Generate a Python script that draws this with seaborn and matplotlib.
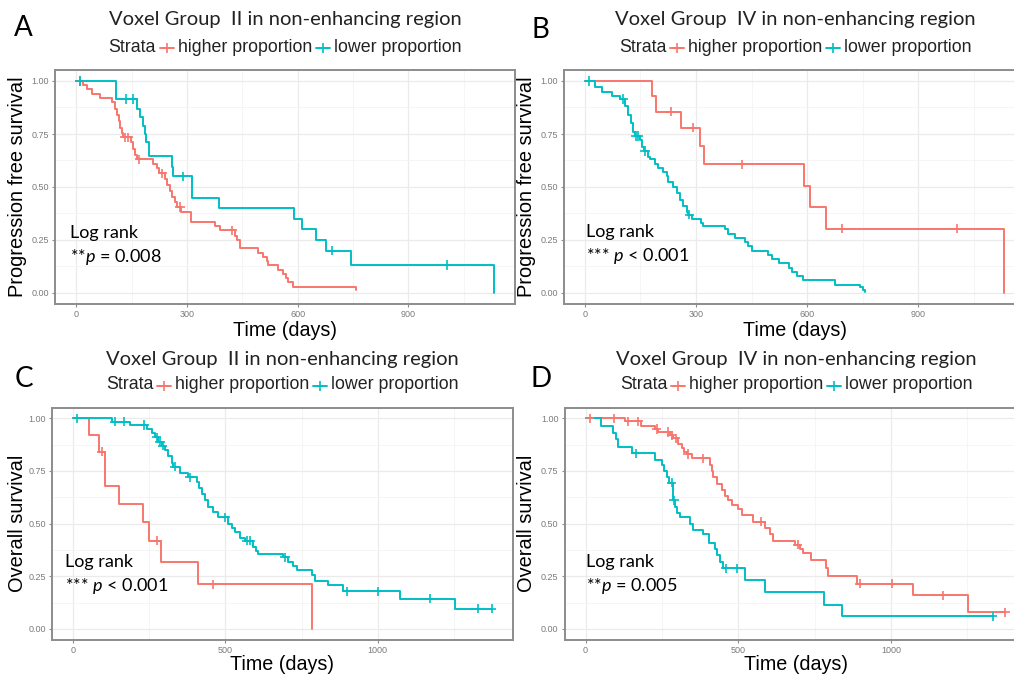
import numpy as np
import pandas as pd
import matplotlib
matplotlib.use("Agg")
import matplotlib.pyplot as plt
import seaborn as sns
from matplotlib.lines import Line2D
from matplotlib.ticker import MultipleLocator, FixedLocator

# ----------------------------
# Kaplan-Meier step data
# ----------------------------

# A: progression free survival, Voxel Group II
a_hi_t = [0, 19, 30, 42, 64, 96, 105, 110, 115, 120, 124, 128, 148, 154, 159, 165, 209, 218, 225,
          240, 245, 254, 261, 267, 272, 285, 311, 376, 389, 430, 436, 444, 493, 507, 516, 520,
          547, 561, 568, 575, 588, 758]
a_hi_s = [1.0, 0.98, 0.96, 0.94, 0.92, 0.90, 0.87, 0.84, 0.81, 0.78, 0.755, 0.735, 0.71, 0.68, 0.65,
          0.63, 0.61, 0.59, 0.565, 0.54, 0.51, 0.48, 0.455, 0.43, 0.405, 0.38, 0.335, 0.315, 0.295,
          0.27, 0.25, 0.21, 0.19, 0.17, 0.15, 0.13, 0.11, 0.09, 0.07, 0.05, 0.03, 0.012]
a_hi_c = [10, 132, 141, 171, 233, 281, 423]
a_lo_t = [0, 107, 164, 172, 180, 186, 190, 197, 260, 263, 315, 387, 591, 611, 651, 678, 746, 1132]
a_lo_s = [1.0, 0.915, 0.87, 0.83, 0.79, 0.75, 0.71, 0.645, 0.595, 0.55, 0.448, 0.40, 0.35, 0.30,
          0.25, 0.20, 0.132, 0.0]
a_lo_c = [10, 135, 154, 289, 694, 1006]

# B: progression free survival, Voxel Group IV
b_hi_t = [0, 180, 192, 259, 311, 322, 593, 607, 650, 1131]
b_hi_s = [1.0, 0.929, 0.855, 0.78, 0.693, 0.607, 0.506, 0.405, 0.303, 0.0]
b_hi_c = [232, 291, 423, 695, 1005]
b_lo_t = [0, 27, 45, 72, 95, 108, 117, 124, 131, 135, 149, 155, 160, 169, 176, 189, 198, 212, 221,
          225, 239, 248, 257, 266, 275, 279, 288, 313, 318, 378, 387, 405, 431, 441, 450, 495, 505,
          523, 550, 560, 572, 588, 676, 743, 752, 757]
b_lo_s = [1.0, 0.97, 0.95, 0.93, 0.915, 0.88, 0.84, 0.80, 0.76, 0.74, 0.72, 0.69, 0.67, 0.64, 0.63,
          0.61, 0.59, 0.57, 0.55, 0.525, 0.50, 0.47, 0.44, 0.41, 0.38, 0.37, 0.35, 0.33, 0.315, 0.30,
          0.28, 0.26, 0.24, 0.22, 0.20, 0.18, 0.16, 0.14, 0.12, 0.10, 0.08, 0.06, 0.04, 0.03, 0.015,
          0.004]
b_lo_c = [12, 104, 138, 144, 162, 282]

# C: overall survival, Voxel Group II
c_hi_t = [0, 52, 86, 105, 152, 229, 249, 290, 409, 783]
c_hi_s = [1.0, 0.921, 0.842, 0.68, 0.593, 0.51, 0.42, 0.32, 0.212, 0.0]
c_hi_c = [94, 277, 461]
c_lo_t = [0, 127, 187, 242, 258, 269, 280, 291, 302, 313, 324, 329, 351, 379, 406, 414, 422, 433,
          444, 458, 477, 510, 521, 532, 548, 565, 592, 601, 608, 688, 707, 723, 734, 783, 794, 838,
          887, 1073, 1254, 1374]
c_lo_s = [1.0, 0.984, 0.968, 0.95, 0.93, 0.91, 0.89, 0.87, 0.85, 0.82, 0.79, 0.77, 0.74, 0.72, 0.70,
          0.67, 0.64, 0.61, 0.58, 0.555, 0.53, 0.50, 0.48, 0.46, 0.43, 0.42, 0.39, 0.37, 0.355,
          0.34, 0.32, 0.30, 0.28, 0.255, 0.23, 0.21, 0.178, 0.144, 0.097, 0.097]
c_lo_c = [14, 138, 167, 233, 275, 286, 294, 335, 384, 499, 570, 581, 696, 898, 1002, 1172, 1330,
          1374]

# D: overall survival, Voxel Group IV
d_hi_t = [0, 129, 183, 227, 238, 276, 287, 303, 314, 323, 331, 347, 407, 413, 418, 429, 445, 456,
          467, 478, 500, 511, 549, 587, 603, 615, 686, 702, 711, 738, 786, 795, 888, 1073, 1253, 1373]
d_hi_s = [1.0, 0.985, 0.965, 0.95, 0.935, 0.92, 0.905, 0.88, 0.86, 0.84, 0.83, 0.81, 0.78, 0.75,
          0.72, 0.69, 0.66, 0.63, 0.61, 0.59, 0.57, 0.54, 0.51, 0.48, 0.45, 0.42, 0.40, 0.38, 0.36,
          0.327, 0.288, 0.252, 0.215, 0.16, 0.079, 0.079]
d_hi_c = [13, 94, 140, 172, 233, 271, 282, 295, 334, 383, 574, 694, 898, 1002, 1171, 1373]
d_lo_t = [0, 52, 91, 98, 107, 151, 227, 249, 258, 265, 273, 285, 287, 293, 298, 309, 342, 353, 385,
          404, 424, 429, 440, 451, 522, 587, 782, 838, 1332]
d_lo_s = [1.0, 0.965, 0.93, 0.90, 0.865, 0.834, 0.80, 0.78, 0.75, 0.72, 0.695, 0.65, 0.61, 0.58,
          0.55, 0.53, 0.50, 0.47, 0.45, 0.41, 0.38, 0.35, 0.32, 0.288, 0.233, 0.174, 0.114, 0.06,
          0.06]
d_lo_c = [164, 282, 289, 460, 497, 1332]

strata = ["higher proportion", "lower proportion"]
colors = {"higher proportion": "#F8766D", "lower proportion": "#00BFC4"}

titles = ["Voxel Group  II in non-enhancing region", "Voxel Group  IV in non-enhancing region",
          "Voxel Group  II in non-enhancing region", "Voxel Group  IV in non-enhancing region"]
ylabels = ["Progression free survival", "Progression free survival",
           "Overall survival", "Overall survival"]
letters = ["A", "B", "C", "D"]
pstars = ["**", "*** ", "*** ", "**"]
ptexts = [" = 0.008", " < 0.001", " < 0.001", " = 0.005"]
xticks_list = [[0, 300, 600, 900], [0, 300, 600, 900], [0, 500, 1000], [0, 500, 1000]]

panels = [
    (a_hi_t, a_hi_s, a_hi_c, a_lo_t, a_lo_s, a_lo_c),
    (b_hi_t, b_hi_s, b_hi_c, b_lo_t, b_lo_s, b_lo_c),
    (c_hi_t, c_hi_s, c_hi_c, c_lo_t, c_lo_s, c_lo_c),
    (d_hi_t, d_hi_s, d_hi_c, d_lo_t, d_lo_s, d_lo_c),
]

# ----------------------------
# Style and layout (pixel positions of the original 1014x679 image)
# ----------------------------
sns.set_style("white")
plt.rcParams["font.family"] = ["Liberation Sans", "DejaVu Sans"]
plt.rcParams["mathtext.fontset"] = "custom"
plt.rcParams["mathtext.rm"] = "Lato"
plt.rcParams["mathtext.it"] = "Lato:italic"

W, H = 1014, 679
fig = plt.figure(figsize=(W / 100, H / 100), dpi=100)


def fx(px):
    return px / W


def fy(py):
    return 1 - py / H


# left, right, top, bottom in pixels
boxes = [(55.3, 514.8, 70.4, 303.6), (564.0, 1024.6, 70.4, 303.6),
         (52.0, 512.7, 407.8, 639.5), (564.6, 1026.0, 407.8, 639.5)]
title_y = [20, 20, 359, 359]
legend_y = [47, 47, 384.5, 384.5]
letter_xy = [(23, 28), (540, 30), (23.5, 379), (541.5, 379)]
logrank_xy = [(70, 233), (586, 232), (65, 562), (586, 562)]
xlabel_y = [330, 330, 665, 665]
ylabel_x = [18, 527, 18, 527]

fig.canvas.draw()
renderer = fig.canvas.get_renderer()


def step_at(times, surv, c):
    idx = np.searchsorted(np.array(times), c, side="right") - 1
    return surv[idx]


for i, (hi_t, hi_s, hi_c, lo_t, lo_s, lo_c) in enumerate(panels):
    l, r, t, b = boxes[i]
    ax = fig.add_axes([fx(l), fy(b), fx(r) - fx(l), fy(t) - fy(b)])

    curves = pd.DataFrame({
        "time": hi_t + lo_t,
        "surv": hi_s + lo_s,
        "strata": [strata[0]] * len(hi_t) + [strata[1]] * len(lo_t),
    })
    cens = pd.DataFrame({
        "time": hi_c + lo_c,
        "surv": [step_at(hi_t, hi_s, c) for c in hi_c] + [step_at(lo_t, lo_s, c) for c in lo_c],
        "strata": [strata[0]] * len(hi_c) + [strata[1]] * len(lo_c),
    })

    sns.lineplot(data=curves, x="time", y="surv", hue="strata", palette=colors,
                 drawstyle="steps-post", estimator=None, sort=False, linewidth=1.4,
                 legend=False, ax=ax, zorder=3)
    sns.scatterplot(data=cens, x="time", y="surv", hue="strata", palette=colors,
                    marker="+", s=45, linewidth=1.2, legend=False, ax=ax, zorder=4)

    tmax = max(max(hi_t), max(lo_t))
    ax.set_xlim(-0.05 * tmax, 1.05 * tmax)
    ax.set_ylim(-0.05, 1.05)

    xt = xticks_list[i]
    ax.xaxis.set_major_locator(FixedLocator(xt))
    step = xt[1] - xt[0]
    ax.xaxis.set_minor_locator(MultipleLocator(step / 2))
    ax.yaxis.set_major_locator(FixedLocator([0, 0.25, 0.5, 0.75, 1.0]))
    ax.yaxis.set_minor_locator(MultipleLocator(0.125))
    ax.set_yticklabels(["0.00", "0.25", "0.50", "0.75", "1.00"])
    ax.grid(True, which="major", color="#EBEBEB", linewidth=0.9)
    ax.grid(True, which="minor", color="#F4F4F4", linewidth=0.6)
    ax.set_axisbelow(True)
    for sp in ax.spines.values():
        sp.set_color("#8C8C8C")
        sp.set_linewidth(1.4)
    ax.tick_params(which="major", length=2.5, width=0.8, color="#8C8C8C",
                   labelsize=6.5, labelcolor="#7A7A7A", pad=2, bottom=True, left=True)
    ax.tick_params(which="minor", length=0)
    ax.set_xlabel("")
    ax.set_ylabel("")

    cx = (l + r) / 2
    if i in (1, 3):
        cx = (l + r) / 2 + 1

    # titles and axis labels
    fig.text(fx(cx), fy(title_y[i]), titles[i], family="Lato", fontsize=14.5,
             ha="center", va="center", color="#222222")
    fig.text(fx(cx), fy(xlabel_y[i]), "Time (days)", fontsize=14.2,
             ha="center", va="center", color="black")
    fig.text(fx(ylabel_x[i]), fy((t + b) / 2), ylabels[i], fontsize=14.4, rotation=90,
             ha="center", va="center", color="black")
    fig.text(fx(letter_xy[i][0]), fy(letter_xy[i][1]), letters[i], family="Lato",
             fontsize=20, ha="center", va="center", color="black")

    # Log rank annotation
    lx, ly = logrank_xy[i]
    fig.text(fx(lx), fy(ly), "Log rank", family="Lato", fontsize=13, ha="left",
             va="center", color="black")
    fig.text(fx(lx), fy(ly + 24), pstars[i] + r"$\it{p}$" + ptexts[i], family="Lato",
             fontsize=13, ha="left", va="center", color="black")

    # legend row: Strata + higher proportion + lower proportion
    parts = []
    tx = fig.text(0, fy(legend_y[i]), "Strata", fontsize=12.8, ha="left", va="center",
                  color="#222222")
    parts.append(("text", tx))
    for s in strata:
        parts.append(("key", s))
        tt = fig.text(0, fy(legend_y[i]), s, fontsize=12.8, ha="left", va="center",
                      color="#222222")
        parts.append(("text", tt))
    key_w = 14
    gap = 4
    widths = []
    for kind, obj in parts:
        if kind == "text":
            widths.append(obj.get_window_extent(renderer).width)
        else:
            widths.append(key_w)
    total = sum(widths) + gap * (len(parts) - 1)
    x = cx - total / 2
    for (kind, obj), w in zip(parts, widths):
        if kind == "text":
            obj.set_x(fx(x))
        else:
            yk = fy(legend_y[i] + 1)
            fig.add_artist(Line2D([fx(x), fx(x + w)], [yk, yk], color=colors[obj],
                                  linewidth=1.4, transform=fig.transFigure))
            fig.add_artist(Line2D([fx(x + w / 2)], [yk], color=colors[obj], marker="+",
                                  markersize=7, markeredgewidth=1.2,
                                  transform=fig.transFigure))
        x += w + gap

fig.savefig("out.png", dpi=100)
